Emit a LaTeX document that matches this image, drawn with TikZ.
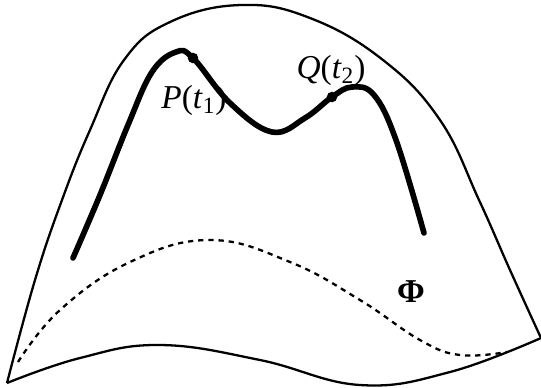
\documentclass[tikz,border=0pt]{standalone}
\usepackage{fontspec}
\setmainfont{Liberation Serif}
\begin{document}
\begin{tikzpicture}[x=0.02cm, y=-0.02cm,
  edge/.style={line width=1.3pt, line join=round},
  path/.style={line width=3.2pt, line cap=round, line join=round},
  trace/.style={line width=1.3pt, dash pattern=on 3pt off 2.8pt},
  pt/.style={circle, fill, inner sep=0pt, minimum size=6pt},
  lbl/.style={font=\fontsize{19}{19}\selectfont}]
  \useasboundingbox (0,0) rectangle (541,387);

  % outer surface
  \coordinate (corner l) at (7,383);
  \coordinate (corner r) at (541,338);
  \draw[edge] plot[smooth, tension=0.7] coordinates {(corner l) (35,280) (62,200) (90,130) (124,60) (170,22) (241,5) (310,18) (383,60) (440,120) (479,200) (510,270) (corner r)};
  \draw[edge] plot[smooth, tension=0.7] coordinates {(corner l) (80,358) (160,345) (260,360) (360,385) (450,372) (corner r)};

  % dashed curve
  \draw[trace] plot[smooth, tension=0.7] coordinates {(18,362) (60,310) (130,262) (210,240) (290,262) (360,300) (420,340) (460,355) (507,352)};

  % thick curve
  \draw[path] plot[smooth, tension=0.65] coordinates {(73,258) (100,195) (128,125) (152,72) (176,52) (193,58) (230,103) (272,132) (305,118) (332,97) (352,87) (374,95) (396,140) (424,233)};

  % points
  \node[pt] (P) at (193,58) {};
  \node[pt] (Q) at (332,97) {};
  \node[lbl] (P label) at (194,100) {\textit{P}(\textit{t}\textsubscript{1})};
  \node[lbl] (Q label) at (331,70) {\textit{Q}(\textit{t}\textsubscript{2})};
  \node[lbl] (phi) at (411,292) {\textbf{Φ}};
\end{tikzpicture}
\end{document}
